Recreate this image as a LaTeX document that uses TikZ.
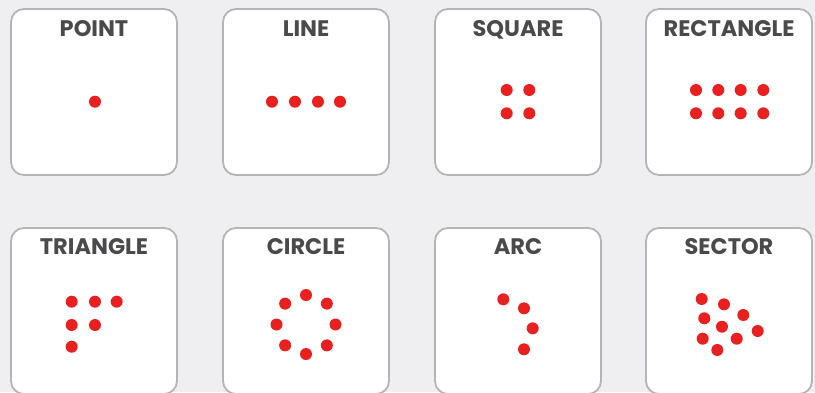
\documentclass[tikz,border=0pt]{standalone}
\usepackage{fontspec}
\setmainfont{Poppins}
\usetikzlibrary{calc}
\definecolor{bg}{HTML}{EFEFF1}
\definecolor{frame}{HTML}{B5B5B8}
\definecolor{title}{HTML}{4A4A4D}
\definecolor{dotred}{HTML}{E8201F}
\tikzset{
  card/.style={draw=frame, line width=1.8pt, fill=white, rounded corners=13pt},
  cardtitle/.style={text=title, font=\bfseries\fontsize{22.5}{24}\selectfont, anchor=base, inner sep=0pt},
  reddot/.style={circle, fill=dotred, minimum size=12pt, inner sep=0pt},
}
\begin{document}
\begin{tikzpicture}[x=1pt,y=-1pt]
\fill[bg] (0,0) rectangle (815,392);
\useasboundingbox (0,0) rectangle (815,392);
% cards
\foreach \n/\x/\y in {c1/11/9, c2/223/9, c3/435/9, c4/646/9, c5/11/228, c6/223/228, c7/435/228, c8/646/228}{
  \draw[card] (\x,\y) rectangle ++(166,166);
}
% titles
\node[cardtitle] (t1) at (94,36) {POINT};
\node[cardtitle] (t2) at (306,36) {LINE};
\node[cardtitle] (t3) at (518,36) {SQUARE};
\node[cardtitle] (t4) at (729,36) {RECTANGLE};
\node[cardtitle] (t5) at (94,254.5) {TRIANGLE};
\node[cardtitle] (t6) at (306,254.5) {CIRCLE};
\node[cardtitle] (t7) at (518,254.5) {ARC};
\node[cardtitle] (t8) at (729,254.5) {SECTOR};
% point
\node[reddot] (p1) at (95,101.7) {};
% line
\foreach \i/\x in {1/272,2/295,3/318,4/340}{\node[reddot] (l\i) at (\x,101.7) {};}
% square
\foreach \i/\x/\y in {1/506.7/90, 2/529.3/90, 3/506.7/113.3, 4/529.3/113.3}{\node[reddot] (s\i) at (\x,\y) {};}
% rectangle
\foreach \i/\x in {1/696,2/718.3,3/740.7,4/763.3}{
  \node[reddot] (ra\i) at (\x,90) {};
  \node[reddot] (rb\i) at (\x,113.3) {};
}
% triangle
\foreach \i/\x/\y in {1/71.7/301.7, 2/95/301.7, 3/116.7/301.7, 4/71.7/325, 5/95/325, 6/71.7/346.7}{\node[reddot] (tr\i) at (\x,\y) {};}
% circle
\foreach \i in {0,...,7}{\node[reddot] (ci\i) at ($(306,324.5)+(\i*45:29.5)$) {};}
% arc
\foreach \i/\x/\y in {1/503.3/299.3, 2/524/308.3, 3/532.7/328.3, 4/524/349.3}{\node[reddot] (a\i) at (\x,\y) {};}
% sector
\foreach \i/\x/\y in {1/701.7/299, 2/724/304.3, 3/743.3/315, 4/757.7/331, 5/704.3/318.3, 6/722/326.7, 7/702.7/338.7, 8/736.7/338.7, 9/717.3/350}{\node[reddot] (se\i) at (\x,\y) {};}
\end{tikzpicture}
\end{document}
